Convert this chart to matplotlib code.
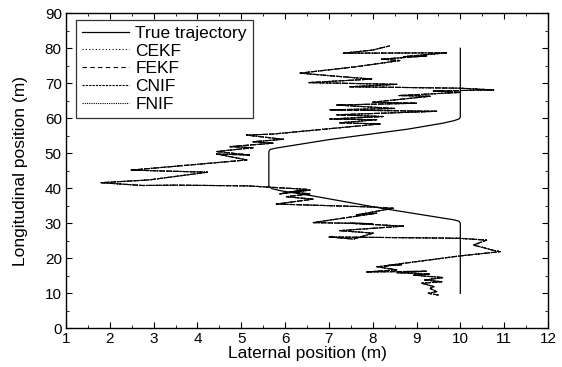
import numpy as np
import matplotlib
matplotlib.use("Agg")
import matplotlib.pyplot as plt
from matplotlib.ticker import MultipleLocator

plt.rcParams["font.family"] = ["Liberation Sans", "DejaVu Sans"]

# true trajectory (lateral, longitudinal)
true_x = [10.0, 10.0, 9.97, 9.85, 8.2, 6.6, 5.9, 5.7, 5.63, 5.63,
          5.66, 5.8, 7.0, 8.8, 9.6, 9.85, 9.97, 10.0, 10.0]
true_y = [10.0, 30.0, 30.6, 31.0, 34.3, 37.9, 39.3, 39.9, 40.6, 50.5,
          51.1, 51.5, 53.9, 56.9, 58.6, 59.3, 59.8, 60.3, 80.0]

# estimated trajectory (the four filters overlap)
est_x = [9.50, 9.27, 9.46, 9.31, 9.40, 9.12, 9.58, 9.19, 9.61, 8.93,
         9.31, 8.55, 9.23, 7.86, 8.55, 8.09, 8.66, 8.30, 10.0, 10.91,
         10.75, 10.30, 10.60, 10.0, 9.5, 7.0, 7.56, 8.01, 7.25, 8.70,
         7.48, 8.0, 6.64, 8.09, 7.63, 8.47, 7.9, 5.80, 6.64, 6.03,
         6.57, 6.11, 6.57, 5.88, 6.49, 5.13, 3.5, 2.75, 1.80, 2.9,
         4.23, 2.49, 3.5, 5.13, 4.44, 5.19, 4.44, 5.27, 4.74, 5.73,
         5.27, 5.96, 5.12, 5.73, 8.17, 7.25, 8.09, 7.02, 8.24, 7.18,
         9.46, 7.02, 8.5, 7.18, 9.0, 8.0, 9.31, 8.6, 10.0, 9.38,
         10.76, 10.0, 7.48, 8.55, 6.53, 7.98, 7.18, 6.34, 7.6, 8.62,
         8.2, 9.23, 8.70, 9.69, 7.33, 8.0, 8.39]
est_y = [9.5, 10.0, 10.5, 11.4, 11.9, 12.9, 13.3, 13.8, 14.5, 15.2,
         15.5, 15.9, 16.3, 16.1, 16.7, 17.6, 18.2, 17.9, 20.7, 21.9,
         22.3, 23.8, 25.2, 25.7, 25.8, 26.1, 25.5, 27.2, 27.9, 29.2,
         30.0, 29.9, 30.2, 32.9, 32.4, 34.3, 34.7, 35.5, 36.9, 37.6,
         38.4, 39.0, 39.5, 38.4, 39.7, 40.7, 40.9, 40.8, 41.6, 42.4,
         44.6, 45.2, 46.3, 48.1, 49.8, 49.5, 50.5, 51.6, 51.9, 52.9,
         53.3, 54.0, 55.2, 55.5, 58.4, 58.7, 59.6, 59.8, 60.5, 61.0,
         62.0, 62.4, 62.8, 63.8, 64.3, 64.6, 66.3, 66.5, 67.4, 67.8,
         68.1, 68.6, 69.0, 69.7, 70.2, 71.2, 72.0, 72.9, 74.7, 76.5,
         76.9, 77.8, 77.6, 78.7, 78.6, 79.5, 80.7]

filters = ["CEKF", "FEKF", "CNIF", "FNIF"]
styles = [(0, (1, 2)), (0, (4, 3)), (0, (2, 1)), (0, (1, 1))]

fig = plt.figure(figsize=(5.62, 3.67), dpi=100)
ax = fig.add_axes([0.1174, 0.1054, 0.8576, 0.8584])

ax.plot(true_x, true_y, color="black", lw=0.9, label="True trajectory")
for name, ls in zip(filters, styles):
    ax.plot(est_x, est_y, color="black", lw=0.8, ls=ls, label=name)

ax.set_xlim(1, 12)
ax.set_ylim(0, 90)
ax.xaxis.set_major_locator(MultipleLocator(1))
ax.xaxis.set_minor_locator(MultipleLocator(0.5))
ax.yaxis.set_major_locator(MultipleLocator(10))
ax.yaxis.set_minor_locator(MultipleLocator(5))
ax.tick_params(which="both", direction="in", top=True, right=True, labelsize=11)
ax.tick_params(which="major", length=4, pad=3)
ax.tick_params(which="minor", length=2)
for s in ax.spines.values():
    s.set_linewidth(1.0)

ax.set_xlabel("Laternal position (m)", fontsize=12.5, labelpad=0)
ax.set_ylabel("Longitudinal position (m)", fontsize=12.5, labelpad=12)

# legend box: left edge ~10 px, top ~6 px inside the axes
leg = ax.legend(loc="upper left", bbox_to_anchor=(0.021, 0.98), borderaxespad=0,
                fontsize=12.5, frameon=True, fancybox=False, edgecolor="black",
                handlelength=2.7, handletextpad=0.35, labelspacing=0.15,
                borderpad=0.35)
leg.get_frame().set_linewidth(0.9)

fig.savefig("out.png", dpi=100)
